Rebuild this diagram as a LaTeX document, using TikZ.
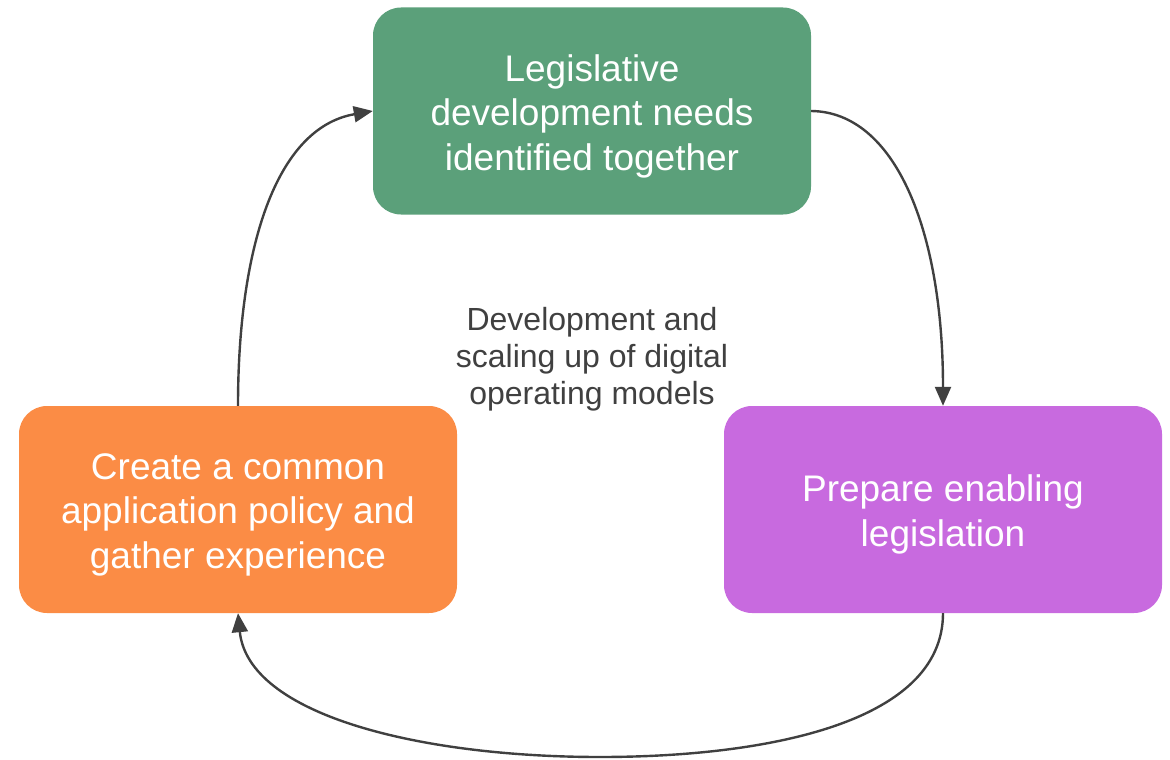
\documentclass[tikz,border=0pt]{standalone}
\usepackage{fontspec}
\setmainfont{Liberation Sans}
\usetikzlibrary{arrows.meta}
\definecolor{boxgreen}{HTML}{5BA07A}
\definecolor{boxorange}{HTML}{FB8C45}
\definecolor{boxpurple}{HTML}{C86ADF}
\definecolor{arrowgray}{HTML}{404040}
\newcommand{\boxlines}[1]{\raisebox{-5pt}[\height][\depth]{\parbox{400pt}{\centering\fontsize{37}{44.5}\selectfont #1}}}
\tikzset{
  stepbox/.style={rounded corners=28pt, minimum width=438pt, minimum height=207pt,
    text=white, inner sep=0pt},
  flow/.style={draw=arrowgray, line width=2.4pt, -{Triangle[length=19pt,width=16pt]}}
}
\begin{document}
\begin{tikzpicture}[x=1pt,y=-1pt]
\useasboundingbox (0,0) rectangle (1170,760);
\node[stepbox, fill=boxgreen] (g) at (592,111) {\boxlines{Legislative\\development needs\\identified together}};
\node[stepbox, fill=boxpurple] (p) at (943,509.5) {\boxlines{Prepare enabling\\legislation}};
\node[stepbox, fill=boxorange] (o) at (238,509.5) {\boxlines{Create a common\\application policy and\\gather experience}};
\node[text=arrowgray, align=center, font=\fontsize{32}{37}\selectfont] (c) at (592,359) {Development and\\scaling up of digital\\operating models};
\draw[flow] (g.east) .. controls (895,112) and (943,230) .. (p.north);
\draw[flow] (p.south) .. controls (943,725) and (760,757) .. (600,757) .. controls (420,757) and (248,715) .. (o.south);
\draw[flow] (o.north) .. controls (238,250) and (275,128) .. (g.west);
\end{tikzpicture}
\end{document}
